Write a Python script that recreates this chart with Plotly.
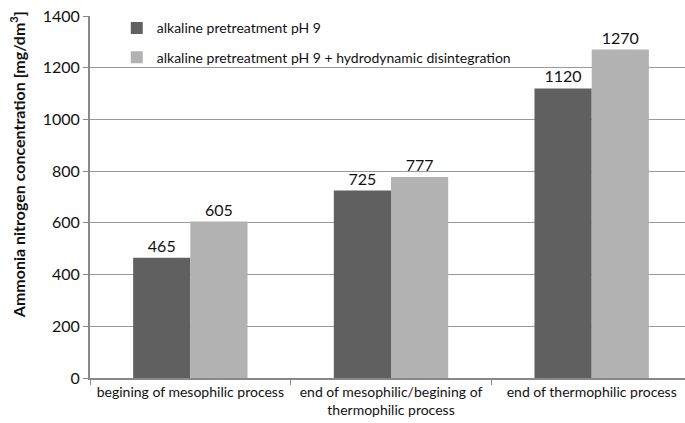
import plotly.graph_objects as go

categories = ["begining of mesophilic process",
              "end of mesophilic/begining of<br>thermophilic process",
              "end of thermophilic process"]
series_names = ["alkaline pretreatment pH 9",
                "alkaline pretreatment pH 9 + hydrodynamic disintegration"]
series1 = [465, 725, 1120]
series2 = [605, 777, 1270]
y_ticks = [0, 200, 400, 600, 800, 1000, 1200, 1400]

FONT = "Lato, Calibri, Carlito, sans-serif"
TXT = "#111111"

fig = go.Figure()
fig.add_trace(go.Bar(x=categories, y=series1, name=series_names[0],
                     marker=dict(color="#606060", line=dict(width=0)),
                     text=[str(v) for v in series1], textposition="outside",
                     textfont=dict(size=16, color=TXT, family=FONT),
                     cliponaxis=False, legendgroup="a"))
fig.add_trace(go.Bar(x=categories, y=series2, name=series_names[1],
                     marker=dict(color="#b2b2b2", line=dict(width=0)),
                     text=[str(v) for v in series2], textposition="outside",
                     textfont=dict(size=16, color=TXT, family=FONT),
                     cliponaxis=False, legendgroup="b"))

fig.update_layout(
    width=685, height=423,
    margin=dict(l=90, r=0, t=16, b=45),
    plot_bgcolor="white", paper_bgcolor="white",
    font=dict(family=FONT, color=TXT),
    barmode="group", bargap=0.43, bargroupgap=0,
    showlegend=True,
    legend=dict(x=0.045, y=1.01, xanchor="left", yanchor="top",
                bgcolor="rgba(255,255,255,0)", font=dict(size=14, family=FONT, color=TXT),
                tracegroupgap=8, itemwidth=30, traceorder="grouped"),
    annotations=[dict(text="<b>Ammonia nitrogen concentration [mg/dm<sup>3</sup>]</b>",
                      textangle=-90, xref="paper", yref="paper",
                      x=-73/595, y=(377.5 - 165) / 361.5, xanchor="center", yanchor="middle",
                      showarrow=False, font=dict(size=16, family=FONT, color=TXT))],
)
fig.update_xaxes(range=[-0.5, 2.465], showline=True, linecolor="#888888", linewidth=2,
                 ticks="outside", tickson="boundaries", ticklen=5, tickcolor="#888888",
                 tickfont=dict(size=14, family=FONT, color=TXT), showgrid=False,
                 automargin=False)
fig.update_yaxes(range=[0, 1400], tickvals=y_ticks, showline=True, linecolor="#888888",
                 linewidth=2, ticks="outside", ticklen=5, tickcolor="#888888",
                 gridcolor="#999999", gridwidth=1, tickfont=dict(size=16, family=FONT, color=TXT),
                 zeroline=False, automargin=False)

fig.write_html("out.html", config={"displayModeBar": False},
               post_script="document.body.style.margin='0';document.body.style.overflow='hidden';")
